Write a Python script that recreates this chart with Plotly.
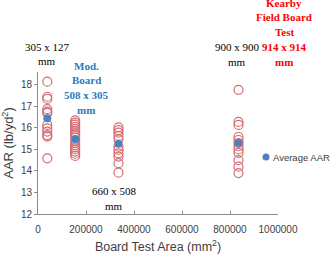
import plotly.graph_objects as go

# Board test areas (mm^2)
areas = [38735, 154940, 335280, 835396]

# Individual AAR test results (lb/yd^2) per board size
aar_305x127 = [18.15, 17.45, 17.35, 16.87, 16.76, 16.7, 16.14, 15.98, 15.83, 15.67, 15.6, 14.59]
aar_508x305 = [16.35, 16.25, 16.15, 16.05, 15.95, 15.85, 15.75, 15.65, 15.55, 15.4, 15.3, 15.2,
               15.1, 15.0, 14.9, 14.8, 14.7]
aar_660x508 = [16.03, 15.9, 15.78, 15.63, 15.47, 15.13, 14.98, 14.82, 14.67, 14.36, 13.92]
aar_914x914 = [17.77, 16.28, 16.14, 15.58, 15.44, 15.3, 15.15, 15.0, 14.84, 14.5, 14.2, 13.9]

# Average AAR per board size
avg_aar = [16.45, 15.48, 15.26, 15.3]
avg_label = "Average AAR"

x_ticks = [0, 200000, 400000, 600000, 800000, 1000000]
y_ticks = [12, 13, 14, 15, 16, 17, 18]

groups = [aar_305x127, aar_508x305, aar_660x508, aar_914x914]

fig = go.Figure()
for a, vals in zip(areas, groups):
    fig.add_trace(go.Scatter(
        x=[a] * len(vals), y=vals, mode="markers", showlegend=False,
        marker=dict(symbol="circle-open", size=9, color="#D46E72", line=dict(width=1.2)),
    ))
fig.add_trace(go.Scatter(
    x=areas, y=avg_aar, mode="markers", name=avg_label, showlegend=False,
    marker=dict(symbol="circle", size=8, color="#4F81BD"),
))

# pixel -> paper helpers for annotation placement
L, R, T, B = 38, 278, 72, 214
def px(xp):
    return (xp - L) / (R - L)
def py(yp):
    return (B - yp) / (B - T)

serif = "Liberation Serif"
anns = []
def add(text, xp, yp, color="#000000", bold=False):
    t = f"<b>{text}</b>" if bold else text
    anns.append(dict(text=t, x=px(xp), y=py(yp), xref="paper", yref="paper",
                     showarrow=False, xanchor="center", yanchor="middle",
                     font=dict(family=serif, size=11, color=color)))

add("305 x 127", 47, 47)
add("mm", 47, 61)
blue = "#2B7BBE"
for t, yp in zip(["Mod.", "Board", "508 x 305", "mm"], [66, 80, 95, 110]):
    add(t, 86, yp, blue, True)
add("660 x 508", 114, 191)
add("mm", 114, 206)
add("900 x 900", 237, 47)
add("mm", 237, 62)
for t, yp in zip(["Kearby", "Field Board", "Test", "914 x 914", "mm"], [3, 17, 32, 47, 62]):
    add(t, 284, yp, "#FF0000", True)

# manual legend entry (marker + label)
anns.append(dict(text=avg_label, x=px(271), y=py(157), xref="paper", yref="paper",
                 showarrow=False, xanchor="left", yanchor="middle",
                 font=dict(family="Liberation Sans", size=9.5, color="#404040")))
shapes = [dict(type="circle", xref="paper", yref="paper",
               x0=px(262.5), x1=px(269.5), y0=py(160.5), y1=py(153.5),
               fillcolor="#4F81BD", line=dict(width=0))]

axis_col = "#8C8C8C"
fig.update_layout(
    width=331, height=254,
    margin=dict(l=L, r=331 - R, t=T, b=254 - B, autoexpand=False),
    paper_bgcolor="white", plot_bgcolor="white",
    font=dict(family="Liberation Sans", color="#404040"),
    annotations=anns, shapes=shapes,
    showlegend=False,
    xaxis=dict(range=[0, 1000000], tickvals=x_ticks, ticktext=[str(v) for v in x_ticks],
               showgrid=False, zeroline=False, showline=True, linecolor=axis_col, linewidth=1,
               ticks="inside", ticklen=3, tickcolor=axis_col, tickfont=dict(size=10),
               ticklabelstandoff=6,
               title=dict(text="Board Test Area (mm<sup>2</sup>)", font=dict(size=12.5), standoff=8)),
    yaxis=dict(range=[12, 18.6], tickvals=y_ticks, showgrid=False, zeroline=False,
               showline=True, linecolor=axis_col, linewidth=1,
               ticks="outside", ticklen=3, tickcolor=axis_col, tickfont=dict(size=10),
               title=dict(text="AAR (lb/yd<sup>2</sup>)", font=dict(size=13), standoff=4)),
)

fig.write_html("out.html")
